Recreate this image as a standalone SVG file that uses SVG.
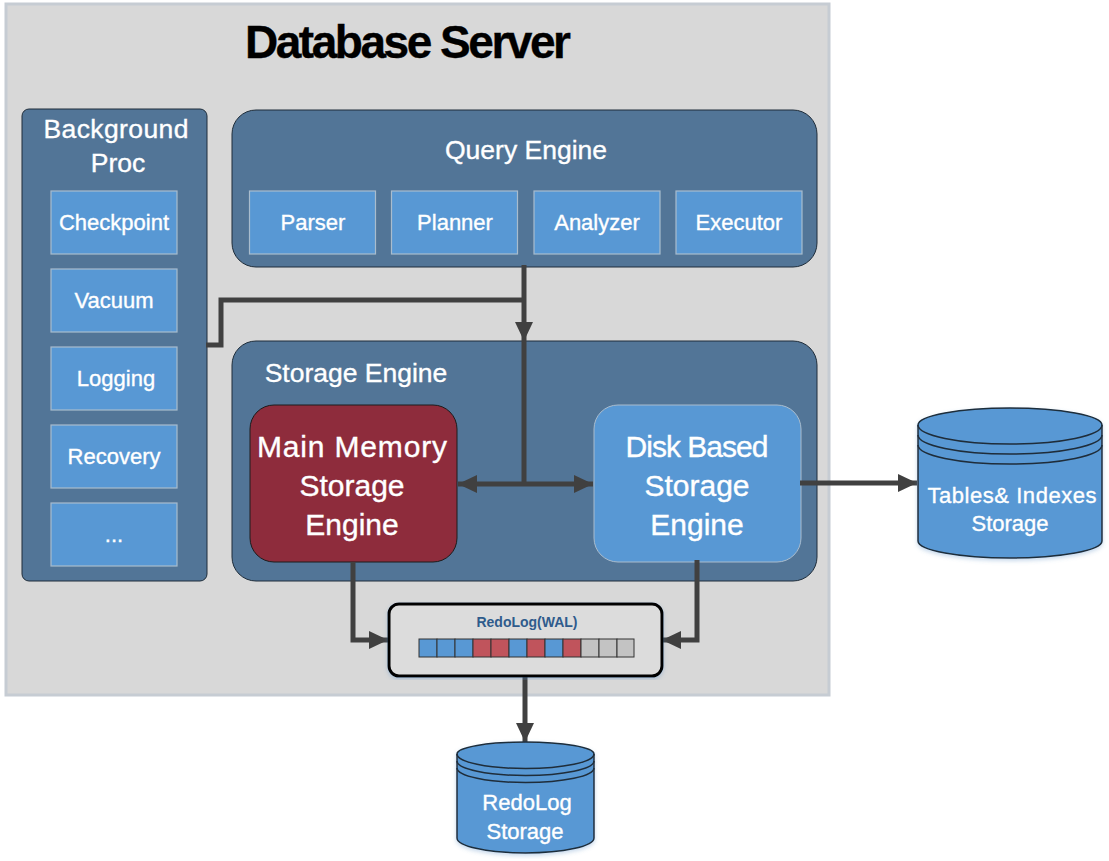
<svg xmlns="http://www.w3.org/2000/svg" width="1109" height="861" viewBox="0 0 1109 861">
<style>
text{font-family:"Liberation Sans",Arial,sans-serif;fill:#fff;text-anchor:middle;stroke:#fff;stroke-width:.35}
.panel{fill:#527597;stroke:#1f2d3a;stroke-width:1}
.box{fill:#5898d4;stroke:#a9bccd;stroke-width:1.2}
.t{font-size:22px}
.h{font-size:26.5px}
.big{font-size:30px}
.cyl{fill:#5898d4;stroke:#1f2d3a;stroke-width:1.5}
.cl{fill:none;stroke:#1f2d3a;stroke-width:1.5}
.c{fill:none;stroke:#404040;stroke-width:5}
.b{fill:#5898d4;stroke:#333;stroke-width:1}
.r{fill:#c0545c;stroke:#333;stroke-width:1}
.g{fill:#c3c3c3;stroke:#333;stroke-width:1}
.shadow{filter:url(#s)}
</style>
<defs>
<marker id="a" markerUnits="userSpaceOnUse" markerWidth="20" markerHeight="18" refX="19" refY="9" orient="auto-start-reverse"><path d="M0 0L19 9L0 18Z" fill="#404040"/></marker>
<filter id="s" x="-5%" y="-5%" width="110%" height="110%"><feDropShadow dx="0" dy="2" stdDeviation="2" flood-color="#5b8fc4" flood-opacity=".35"/></filter>
</defs>
<g id="server"><rect x="6" y="4" width="823" height="691" fill="#d8d8d8" stroke="#c6ccd3" stroke-width="3"/>
<text x="408" y="58" font-size="46" font-weight="bold" textLength="326" lengthAdjust="spacing" style="fill:#000;stroke:#000">Database Server</text></g>
<g id="background-proc"><rect class="panel" x="22" y="109" width="185" height="472" rx="7"/>
<text class="h" x="116" y="138" textLength="145">Background</text><text class="h" x="118" y="172">Proc</text></g>
<g id="checkpoint"><rect class="box" x="51" y="191" width="126" height="63"/><text class="t" x="114" y="230">Checkpoint</text></g>
<g id="vacuum"><rect class="box" x="51" y="269" width="126" height="63"/><text class="t" x="114" y="308">Vacuum</text></g>
<g id="logging"><rect class="box" x="51" y="347" width="126" height="63"/><text class="t" x="116" y="386">Logging</text></g>
<g id="recovery"><rect class="box" x="51" y="425" width="126" height="63"/><text class="t" x="114" y="464">Recovery</text></g>
<g id="more"><rect class="box" x="51" y="503" width="126" height="63"/><text class="t" x="114" y="542">...</text></g>
<g id="query-engine"><rect class="panel" x="232" y="110" width="585" height="157" rx="24"/><text class="h" x="526" y="159">Query Engine</text></g>
<g id="parser"><rect class="box" x="249.500" y="191" width="126" height="63"/><text class="t" x="313" y="230">Parser</text></g>
<g id="planner"><rect class="box" x="391.500" y="191" width="126" height="63"/><text class="t" x="455" y="230">Planner</text></g>
<g id="analyzer"><rect class="box" x="534" y="191" width="126" height="63"/><text class="t" x="597" y="230">Analyzer</text></g>
<g id="executor"><rect class="box" x="676" y="191" width="126" height="63"/><text class="t" x="739" y="230">Executor</text></g>
<g id="storage-engine"><rect class="panel" x="232" y="341" width="585" height="240" rx="24"/><text class="h" x="356" y="382">Storage Engine</text></g>
<g id="main-memory"><rect x="250" y="405" width="207" height="157" rx="24" fill="#8e2c3c" stroke="#1c1c1c" stroke-width="1"/>
<text class="big" x="352" y="457" textLength="190">Main Memory</text><text class="big" x="352" y="496">Storage</text><text class="big" x="352" y="535">Engine</text></g>
<g id="disk-based"><rect x="594" y="405" width="207" height="157" rx="24" fill="#5898d4" stroke="#a9bccd" stroke-width="1"/>
<text class="big" x="697" y="457" textLength="143">Disk Based</text><text class="big" x="697" y="496">Storage</text><text class="big" x="697" y="535">Engine</text></g>
<g id="connectors">
<path class="c" d="M524 265V341" marker-end="url(#a)"/>
<path class="c" d="M206 345H221V300H524"/>
<path class="c" d="M524 341V484"/>
<path class="c" d="M458 484H593" marker-start="url(#a)" marker-end="url(#a)"/>
<path class="c" d="M800 483H917" marker-end="url(#a)"/>
<path class="c" d="M353 562V640H388" marker-end="url(#a)"/>
<path class="c" d="M697 560V640H662" marker-end="url(#a)"/>
<path class="c" d="M525 676V742" marker-end="url(#a)"/>
</g>
<g id="redolog"><rect class="shadow" x="389" y="604" width="273" height="72" rx="10" fill="#dcdcdc" stroke="#000" stroke-width="3"/>
<text x="527" y="627" font-size="14" font-weight="bold" style="fill:#2f5b8c;stroke:none">RedoLog(WAL)</text>
<rect class="b" x="419" y="639" width="18" height="18"/><rect class="b" x="437" y="639" width="18" height="18"/><rect class="b" x="455" y="639" width="18" height="18"/>
<rect class="r" x="473" y="639" width="18" height="18"/><rect class="r" x="491" y="639" width="18" height="18"/><rect class="b" x="509" y="639" width="18" height="18"/>
<rect class="r" x="527" y="639" width="18" height="18"/><rect class="b" x="545" y="639" width="18" height="18"/><rect class="r" x="563" y="639" width="18" height="18"/>
<rect class="g" x="581" y="639" width="18" height="18"/><rect class="g" x="599" y="639" width="18" height="18"/><rect class="g" x="617" y="639" width="17" height="18"/></g>
<g id="tables-storage"><path class="cyl shadow" d="M918 425A92 17 0 0 1 1102 425V541A92 17 0 0 1 918 541Z"/>
<path class="cl" d="M918 425A92 19 0 0 0 1102 425M918 435A92 19 0 0 0 1102 435M918 445A92 19 0 0 0 1102 445"/>
<text class="t" x="1012" y="503" textLength="169">Tables&amp; Indexes</text><text class="t" x="1010" y="531">Storage</text></g>
<g id="redolog-storage"><path class="cyl shadow" d="M457 754A68.500 12 0 0 1 594 754V838A68.500 15 0 0 1 457 838Z"/>
<path class="cl" d="M457 754A68.500 14.500 0 0 0 594 754M457 761A68.500 14.500 0 0 0 594 761M457 768A68.500 14.500 0 0 0 594 768"/>
<text class="t" x="527" y="810">RedoLog</text><text class="t" x="525" y="839">Storage</text></g>
</svg>
